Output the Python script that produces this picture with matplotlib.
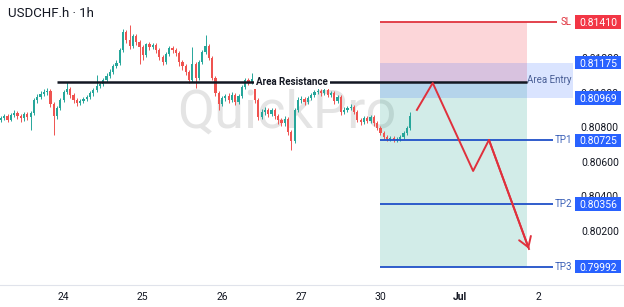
import numpy as np
import matplotlib.pyplot as plt
from matplotlib.patches import Rectangle

plt.rcParams['font.family'] = ['Roboto', 'DejaVu Sans']

# hourly USDCHF.h candles, prices in 1e-5 units
first_open = 80842
closes = [80854, 80865, 80842, 80871, 80883, 80865, 80854, 80877, 80859, 80883,
          80958, 80975, 80993, 81004, 81010, 80935, 80865, 80912, 80958, 81004,
          81022, 80987, 80958, 80941, 80952, 80964, 80975, 80999, 81016, 81039,
          81051, 81074, 81097, 81120, 81155, 81173, 81248, 81352, 81306, 81271,
          81329, 81294, 81265, 81219, 81283, 81265, 81277, 81248, 81207, 81178,
          81225, 81260, 81248, 81231, 81178, 81155, 81120, 81074, 81167, 81086,
          81178, 81236, 81271, 81202, 81086, 80999, 80935, 80970, 80981, 80958,
          80987, 80946, 80981, 81033, 81074, 81062, 81080, 80958, 80859, 80888,
          80900, 80877, 80900, 80865, 80842, 80825, 80848, 80772, 80720, 80900,
          80958, 80964, 80946, 80970, 80987, 81004, 81010, 80999, 81016, 80987,
          80999, 80952, 80975, 80888, 80900, 80912, 80917, 80888, 80842, 80830,
          80854, 80836, 80859, 80825, 80796, 80767, 80743, 80732, 80738, 80726,
          80732, 80743, 80767, 80796, 80865]
highs = [80865, 80877, 80877, 80883, 80900, 80894, 80877, 80888, 80888, 80894,
         80970, 80993, 81010, 81022, 81028, 81022, 80946, 80923, 80970, 81016,
         81062, 81033, 80999, 80970, 80964, 80975, 80987, 81010, 81028, 81103,
         81062, 81086, 81115, 81138, 81167, 81190, 81260, 81370, 81364, 81393,
         81341, 81341, 81306, 81277, 81289, 81294, 81289, 81289, 81260, 81219,
         81236, 81271, 81271, 81260, 81242, 81190, 81167, 81132, 81265, 81178,
         81190, 81248, 81335, 81283, 81213, 81097, 81010, 80981, 80993, 80999,
         81004, 80999, 80993, 81045, 81086, 81086, 81115, 81091, 80970, 80906,
         80917, 80912, 80912, 80912, 80877, 80854, 80865, 80859, 80784, 80912,
         80975, 80981, 80975, 80981, 80999, 81016, 81028, 81022, 81028, 81028,
         81010, 81010, 80987, 80987, 80917, 80923, 80935, 80929, 80900, 80854,
         80865, 80865, 80871, 80871, 80836, 80807, 80778, 80755, 80749, 80749,
         80743, 80755, 80778, 80807, 80888]
lows = [80830, 80842, 80830, 80836, 80859, 80848, 80830, 80836, 80842, 80784,
        80871, 80941, 80964, 80981, 80987, 80917, 80755, 80848, 80900, 80946,
        80993, 80970, 80941, 80923, 80929, 80941, 80952, 80964, 80981, 81004,
        81028, 81039, 81062, 81086, 81109, 81144, 81161, 81236, 81289, 81254,
        81260, 81277, 81167, 81190, 81207, 81248, 81254, 81231, 81190, 81161,
        81167, 81213, 81231, 81213, 81155, 81132, 81103, 81057, 81062, 81028,
        81074, 81167, 81225, 81190, 81074, 80981, 80900, 80923, 80952, 80941,
        80946, 80929, 80935, 80970, 81022, 81045, 81051, 80941, 80842, 80848,
        80871, 80859, 80865, 80848, 80819, 80807, 80807, 80755, 80668, 80709,
        80888, 80941, 80929, 80935, 80958, 80975, 80993, 80981, 80987, 80975,
        80975, 80935, 80941, 80871, 80877, 80888, 80900, 80877, 80830, 80813,
        80819, 80825, 80825, 80807, 80784, 80755, 80732, 80720, 80720, 80714,
        80714, 80720, 80732, 80755, 80784]

day_ticks = [0, 1, 2, 3, 4, 5, 6]
day_labels = ['24', '25', '26', '27', '30', 'Jul', '2']

resistance = 0.81062
sl = 0.81410
entry = 0.81060
entry_top = 0.81175
entry_bot = 0.80969
tp_names = ['TP1', 'TP2', 'TP3']
tp_levels = [0.80725, 0.80356, 0.79992]
scale_levels = [0.8140, 0.8120, 0.8100, 0.8080, 0.8060, 0.8040, 0.8020, 0.8000]

# projected move
path_days = [4.46, 4.66, 5.17, 5.37, 5.875]
path_prices = [0.80901, 0.81057, 0.80547, 0.80727, 0.80095]

RED = '#f23645'
BLUE = '#2962ff'
TXT = '#131722'

closes = np.array(closes) / 1e5
highs = np.array(highs) / 1e5
lows = np.array(lows) / 1e5
opens = np.r_[first_open / 1e5, closes[:-1]]
t = (np.arange(len(closes)) - 19) / 24  # days from the 24th

fig = plt.figure(figsize=(6.24, 3.07), dpi=100)
ax = fig.add_axes([0, 22 / 307, 1, 285 / 307])
ax.set_xlim(-0.804, 7.075)
ax.set_ylim(0.79886, 0.81538)

# watermark
ax.text(2.82, 0.80885, 'QuickPro', fontsize=39, color='#e4e4e4',
        ha='center', va='center', zorder=0.5)

# candles
up = closes >= opens
cols = np.where(up, '#26a69a', '#ef5350')
ax.vlines(t, lows, highs, colors=cols, lw=0.7, zorder=3)
ax.bar(t, np.maximum(np.abs(closes - opens), 0.00002), bottom=np.minimum(opens, closes),
       width=0.028, color=cols, lw=0, zorder=3)

# position zones
ax.add_patch(Rectangle((4.0, entry), 1.85, sl - entry, fc=RED, alpha=0.2, lw=0, zorder=1))
ax.add_patch(Rectangle((4.0, tp_levels[-1]), 1.85, entry - tp_levels[-1],
                       fc='#089981', alpha=0.18, lw=0, zorder=1))
ax.add_patch(Rectangle((4.0, entry_bot), 2.43, entry_top - entry_bot,
                       fc=BLUE, alpha=0.17, lw=0, zorder=1.5))
ax.text(6.418, 0.81075, 'Area Entry', color='#4a5f96', fontsize=7,
        ha='right', va='center', zorder=4)

# resistance
ax.hlines(resistance, -0.084, 5.85, color=TXT, lw=1.8, zorder=4)
ax.text(2.886, resistance, 'Area Resistance', fontsize=7, fontweight='bold', color=TXT,
        ha='center', va='center', zorder=5,
        bbox=dict(fc='white', ec='none', pad=1.5))

# SL / TP lines
ax.hlines(sl, 4.0, 6.23, color='#e0343f', lw=1.3, zorder=4)
ax.text(6.418, sl, 'SL', color='#e0343f', fontsize=7, ha='right', va='center')
for name, lvl in zip(tp_names, tp_levels):
    ax.hlines(lvl, 4.0, 6.18, color='#2050c8', lw=1.3, zorder=4)
    ax.text(6.418, lvl, name, color='#3d62b8', fontsize=7, ha='right', va='center')

# projected path
ax.plot(path_days, path_prices, color='#e0303c', lw=1.4, zorder=5)
ax.annotate('', xy=(path_days[-1], path_prices[-1]), xytext=(path_days[-2], path_prices[-2]),
            arrowprops=dict(arrowstyle='->,head_length=0.7,head_width=0.45',
                            color='#e0303c', lw=1.4, shrinkA=0, shrinkB=0), zorder=5)

# price scale (some ticks sit partly under the coloured labels)
for lvl in scale_levels:
    ax.text(6.77, lvl, f'{lvl:.5f}', fontsize=7.5, color=TXT,
            ha='center', va='center_baseline', zorder=5)
boxes = [(sl, RED), (entry_top, BLUE), (entry_bot, BLUE)] + [(p, BLUE) for p in tp_levels]
for price, c in boxes:
    ax.add_patch(Rectangle((6.456, price - 0.00039), 0.581, 0.00078, fc=c, lw=0, zorder=6))
    ax.text(6.747, price, f'{price:.5f}', fontsize=7.5, color='white',
            ha='center', va='center_baseline', zorder=7)

for s in ['top', 'left', 'right']:
    ax.spines[s].set_visible(False)
ax.spines['bottom'].set_color('#e0e3eb')
ax.set_yticks([])
ax.set_xticks(day_ticks)
ax.set_xticklabels(day_labels, fontsize=7.5, color=TXT)
ax.get_xticklabels()[5].set_fontweight('bold')
ax.tick_params(axis='x', length=0, pad=5)

fig.text(8 / 624, 1 - 13.5 / 307, 'USDCHF.h · 1h', fontsize=9.5, color=TXT, va='center')

fig.savefig('out.png', dpi=100)
